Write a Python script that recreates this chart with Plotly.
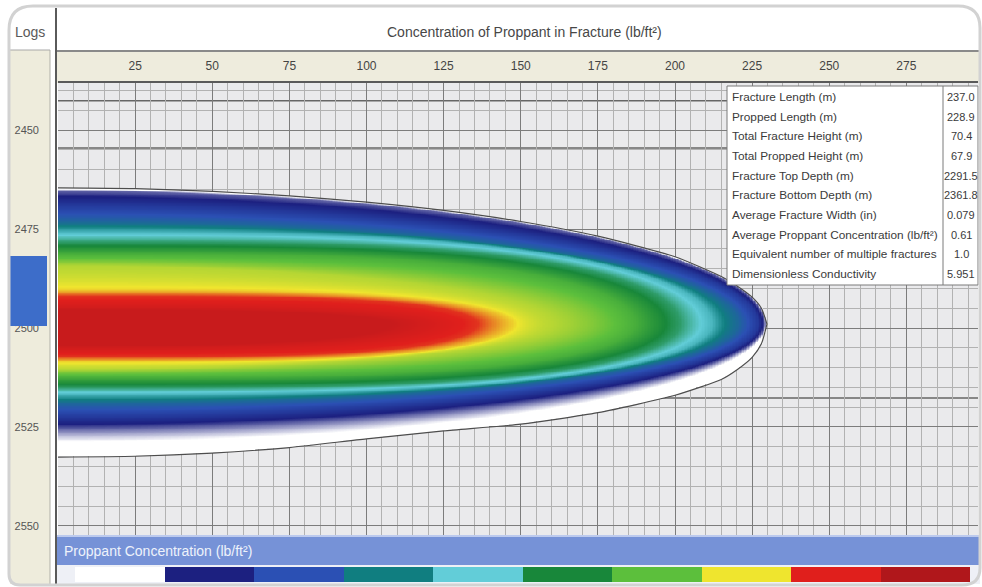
import numpy as np
import plotly.graph_objects as go

W, H = 982, 587

# ---------------- data ----------------
length_ticks = [25, 50, 75, 100, 125, 150, 175, 200, 225, 250, 275]
depth_ticks = [2450, 2475, 2500, 2525, 2550]

# Proppant concentration iso-levels (lb/ft²): extent at the wellbore (top / bottom depth, m),
# lateral reach along the fracture (m) and taper of each contour towards its tip
level_conc = [0.04, 0.12, 0.20, 0.30, 0.42, 0.52, 0.62, 0.71, 0.76, 0.84, 0.90]
level_top_depth = [2464.9, 2465.4, 2468.9, 2473.2, 2475.8, 2478.3, 2481.3, 2484.3, 2490.4, 2492.0, 2495.5]
level_bottom_depth = [2529.4, 2525.6, 2522.7, 2519.2, 2516.9, 2515.2, 2512.6, 2510.6, 2508.6, 2507.3, 2504.5]
level_reach = [229.6, 228.9, 227.0, 220.5, 212.0, 201.6, 187.0, 161.0, 147.5, 136.0, 108.0]
level_taper = [2.0, 2.0, 2.0, 2.2, 3.0, 3.5, 3.5, 2.0, 3.5, 4.0, 3.0]
center_depth = 2499.0

# Created fracture outline (m)
outline_length = [0, 25, 50, 75, 100, 125, 150, 175, 200, 215, 220, 225, 228, 229.8]
outline_top_depth = [2464.6, 2464.8, 2465.5, 2466.6, 2468.2, 2470.3, 2473.1, 2476.8, 2482.0,
                     2487.0, 2489.3, 2492.2, 2495.0, 2499.0]
outline_bottom_depth = [2532.6, 2532.4, 2531.6, 2530.2, 2528.0, 2526.0, 2524.3, 2521.4, 2517.0,
                        2513.0, 2510.6, 2507.4, 2504.0, 2499.0]

# Formation boundaries drawn across the grid (m)
layer_tops = [2442.6, 2454.5, 2517.7]

# Colour classes of the concentration legend
legend_bins = [0.05, 0.15, 0.25, 0.35, 0.45, 0.55, 0.65, 0.75, 0.85, 0.95]
legend_colors = ['#ffffff', '#1c2080', '#2b50b4', '#107e80', '#62cdd8',
                 '#18873a', '#5cbf3c', '#efe52e', '#e01f1c', '#b0171b']

stat_labels = ['Fracture Length (m)', 'Propped Length (m)', 'Total Fracture Height (m)',
               'Total Propped Height (m)', 'Fracture Top Depth (m)', 'Fracture Bottom Depth (m)',
               'Average Fracture Width (in)', 'Average Proppant Concentration (lb/ft²)',
               'Equivalent number of multiple fractures', 'Dimensionless Conductivity']
stat_values = ['237.0', '228.9', '70.4', '67.9', '2291.5', '2361.8', '0.079', '0.61', '1.0', '5.951']

# ---------------- concentration field ----------------
xs = np.arange(0, 231.0, 0.5)
ds = np.arange(2463.0, 2534.5, 0.2)
X, D = np.meshgrid(xs, ds)

R = []
for top, bot, reach, p in zip(level_top_depth, level_bottom_depth, level_reach, level_taper):
    half = np.where(D < center_depth, center_depth - top, bot - center_depth)
    R.append(np.sqrt(np.abs(X / reach) ** p + ((D - center_depth) / half) ** 2))
R = np.array(R)
K = len(level_conc)
idx = np.where(R <= 1, np.arange(K)[:, None, None], -1).max(axis=0)

vals = np.array(level_conc)
Z = np.zeros_like(X)
for m in range(K):
    sel = idx == m
    if m == K - 1:
        Z[sel] = vals[m]
    else:
        rm, rn = R[m][sel], R[m + 1][sel]
        t = (1 - rm) / ((1 - rm) + (rn - 1) + 1e-9)
        Z[sel] = vals[m] + np.clip(t, 0, 1) * (vals[m + 1] - vals[m])

top_at = np.interp(X, outline_length, outline_top_depth)
bot_at = np.interp(X, outline_length, outline_bottom_depth)
inside = (X <= outline_length[-1]) & (D >= top_at) & (D <= bot_at)
Z = np.where(inside, np.round(Z, 3), np.nan)

colorscale = [[0.0, '#ffffff']] + [[b, c] for b, c in zip(legend_bins, legend_colors)] + [[1.0, legend_colors[-1]]]

# ---------------- figure ----------------
def fx(px):
    return px / W


def fy(py):
    return 1 - py / H


FONT = 'Liberation Sans, Arial, sans-serif'
x_end = (978 - 58) / 3.085

fig = go.Figure()
fig.add_trace(go.Heatmap(x=xs, y=ds, z=Z, colorscale=colorscale, zmin=0, zmax=1,
                         showscale=False, hoverinfo='skip'))
fig.add_trace(go.Scatter(x=outline_length + outline_length[::-1],
                         y=outline_top_depth + outline_bottom_depth[::-1],
                         mode='lines', line=dict(color='#4d4d4d', width=1.2, shape='spline', smoothing=0.6),
                         hoverinfo='skip', showlegend=False))
fig.add_trace(go.Heatmap(z=[legend_bins], x=list(range(len(legend_bins))), y=[0],
                         colorscale=colorscale, zmin=0, zmax=1, showscale=False,
                         xaxis='x2', yaxis='y2', hoverinfo='skip'))

shapes = []
# formation boundaries (under the fracture)
for d in layer_tops:
    shapes.append(dict(type='line', xref='x', yref='y', x0=0, x1=x_end, y0=d, y1=d,
                       line=dict(color='#666666', width=1.5), layer='below'))
# frame panels
shapes.append(dict(type='rect', xref='paper', yref='paper', x0=fx(57), x1=fx(980), y0=fy(51), y1=fy(83),
                   fillcolor='#eeecdd', line=dict(width=0), layer='below'))
shapes.append(dict(type='rect', xref='paper', yref='paper', x0=fx(10), x1=fx(50), y0=fy(50), y1=fy(584),
                   fillcolor='#eeecdc', line=dict(width=0), layer='below'))
shapes.append(dict(type='line', xref='paper', yref='paper', x0=fx(57), x1=fx(980), y0=fy(51), y1=fy(51),
                   line=dict(color='#8a8a8a', width=2)))
shapes.append(dict(type='line', xref='paper', yref='paper', x0=fx(10), x1=fx(50), y0=fy(50), y1=fy(50),
                   line=dict(color='#a8a8a8', width=1)))
shapes.append(dict(type='line', xref='paper', yref='paper', x0=fx(50), x1=fx(50), y0=fy(50), y1=fy(584),
                   line=dict(color='#b0b0a8', width=1)))
shapes.append(dict(type='line', xref='paper', yref='paper', x0=fx(56), x1=fx(56), y0=fy(8), y1=fy(584),
                   line=dict(color='#5a5a5a', width=2)))
# perforated interval marker in the log track
shapes.append(dict(type='rect', xref='paper', yref='paper', x0=fx(10), x1=fx(47), y0=fy(256), y1=fy(326),
                   fillcolor='#3d6dc9', line=dict(width=0), layer='above'))
# legend band
shapes.append(dict(type='rect', xref='paper', yref='paper', x0=fx(57), x1=fx(980), y0=fy(535), y1=fy(565),
                   fillcolor='#7692d7', line=dict(width=0)))
shapes.append(dict(type='line', xref='paper', yref='paper', x0=fx(57), x1=fx(980), y0=fy(536), y1=fy(536),
                   line=dict(color='#bccaee', width=2)))
shapes.append(dict(type='rect', xref='paper', yref='paper', x0=fx(57), x1=fx(980), y0=fy(565), y1=fy(584),
                   fillcolor='#eef0f6', line=dict(width=0), layer='below'))
# statistics box
shapes.append(dict(type='rect', xref='paper', yref='paper', x0=fx(727), x1=fx(978), y0=fy(86), y1=fy(285),
                   fillcolor='#ffffff', line=dict(color='#7a7a7a', width=1), layer='above'))
shapes.append(dict(type='line', xref='paper', yref='paper', x0=fx(943), x1=fx(943), y0=fy(86), y1=fy(285),
                   line=dict(color='#7a7a7a', width=1), layer='above'))
# rounded outer frame
path = (f'M {fx(9)},{fy(30)} Q {fx(9)},{fy(6)} {fx(33)},{fy(6)} L {fx(958)},{fy(6)} '
        f'Q {fx(980)},{fy(6)} {fx(980)},{fy(28)} L {fx(980)},{fy(568)} Q {fx(980)},{fy(585)} {fx(962)},{fy(585)} '
        f'L {fx(20)},{fy(585)} Q {fx(9)},{fy(585)} {fx(9)},{fy(574)} Z')
shapes.append(dict(type='path', xref='paper', yref='paper', path=path,
                   line=dict(color='#d2d2d2', width=3), layer='above'))


def note(text, px, py, anchor='left', size=12, color='#3a3a3a'):
    return dict(text=text, xref='paper', yref='paper', x=fx(px), y=fy(py),
                xanchor=anchor, yanchor='middle', showarrow=False,
                font=dict(family=FONT, size=size, color=color))


annotations = [
    note('Logs', 13, 32, size=14, color='#5a5a5a'),
    note('Concentration of Proppant in Fracture (lb/ft²)', 524, 32, anchor='center', size=14, color='#474747'),
    note('Proppant Concentration (lb/ft²)', 62, 551, size=14, color='#eef2fb'),
]
for i, (lab, val) in enumerate(zip(stat_labels, stat_values)):
    annotations.append(note(lab, 730, 97 + i * 19.67, size=11.8))
    annotations.append(note(val, 961, 97 + i * 19.67, anchor='center', size=11))

fig.update_layout(
    width=W, height=H, margin=dict(l=0, r=0, t=0, b=0, pad=0),
    paper_bgcolor='#ffffff', plot_bgcolor='#eaeaec', showlegend=False,
    shapes=shapes, annotations=annotations,
    xaxis=dict(domain=[fx(58), fx(978)], range=[0, x_end], side='top', anchor='y',
               tickmode='array', tickvals=length_ticks, ticks='', ticklabelstandoff=6,
               tickfont=dict(family=FONT, size=12, color='#444444'),
               showgrid=True, gridcolor='#7c7c7c', gridwidth=1, zeroline=False,
               showline=True, linecolor='#5a5a5a', linewidth=2,
               minor=dict(tick0=0, dtick=5, showgrid=True, gridcolor='#b2b2b2', gridwidth=1)),
    yaxis=dict(domain=[fy(535), fy(83)], range=[2552.3, 2438.1], anchor='x',
               tickmode='array', tickvals=depth_ticks, ticks='', ticklabelstandoff=18,
               tickfont=dict(family=FONT, size=11, color='#555555'),
               showgrid=True, gridcolor='#7c7c7c', gridwidth=1, zeroline=False,
               showline=False,
               minor=dict(tick0=2450, dtick=5, showgrid=True, gridcolor='#b2b2b2', gridwidth=1)),
    xaxis2=dict(domain=[fx(75), fx(970)], range=[-0.5, len(legend_bins) - 0.5], anchor='y2', visible=False),
    yaxis2=dict(domain=[fy(582), fy(567)], range=[-0.5, 0.5], anchor='x2', visible=False),
)

fig.write_html('out.html')
